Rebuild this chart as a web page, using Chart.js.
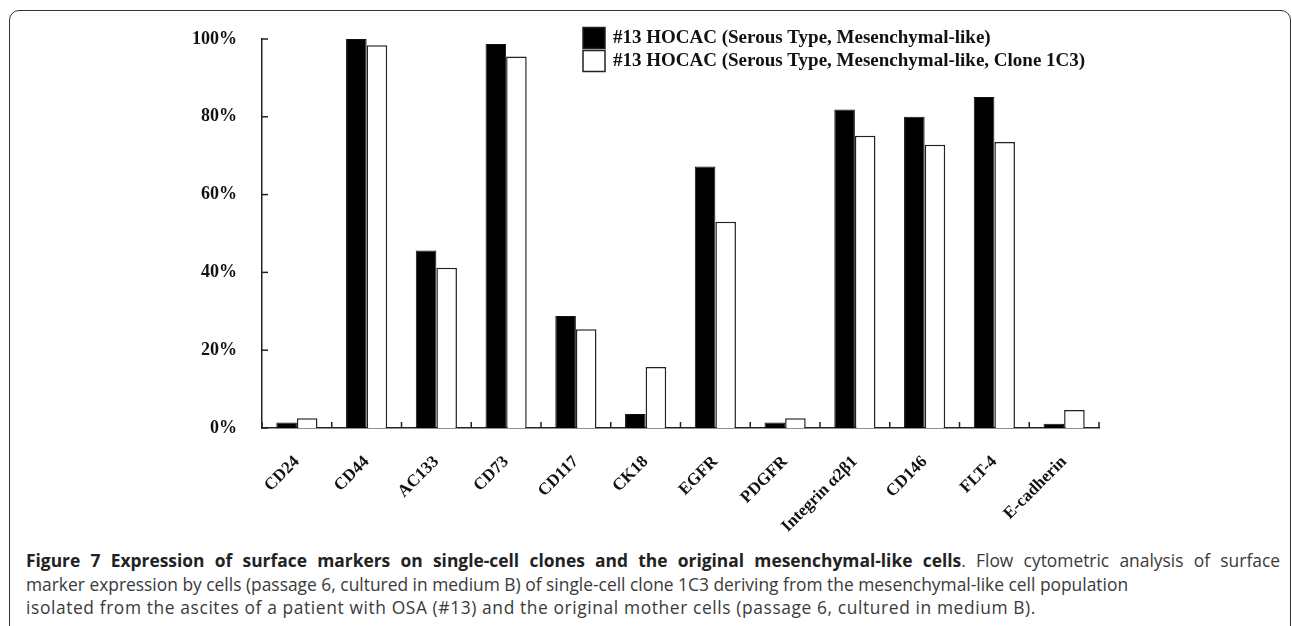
<!DOCTYPE html>
<html lang="en">
<head>
  <meta charset="UTF-8" />
  <title>Figure 7</title>
  <script src="https://cdn.jsdelivr.net/npm/chart.js"></script>
  <style>
    html, body {
      margin: 0;
      padding: 0;
      background: #fff;
    }
    body {
      width: 1292px;
      height: 626px;
      position: relative;
      overflow: hidden;
    }
    #frame {
      position: absolute;
      left: 9px;
      top: 10px;
      width: 1280px;
      height: 700px;
      border: 1.5px solid #333;
      border-radius: 10px;
    }
    #chartBox {
      position: absolute;
      left: 0;
      top: 0;
    }
    #caption {
      position: absolute;
      left: 26px;
      top: 549px;
      width: 1254px;
      font-family: "Open Sans", sans-serif;
      font-size: 17.4px;
      line-height: 23.5px;
      color: #3a3a3a;
    }
    #caption div {
      white-space: nowrap;
    }
    #caption .first {
      text-align: justify;
      text-align-last: justify;
    }
    #caption .last {
      letter-spacing: 0.6px;
    }
    #caption b {
      color: #222;
    }
  </style>
</head>
<body>
  <div id="frame"></div>
  <div id="chartBox">
    <canvas id="barChart" width="1292" height="540"></canvas>
  </div>
  <div id="caption">
    <div class="first"><b>Figure 7 Expression of surface markers on single-cell clones and the original mesenchymal-like cells</b>. Flow cytometric analysis of surface</div>
    <div>marker expression by cells (passage 6, cultured in medium B) of single-cell clone 1C3 deriving from the mesenchymal-like cell population</div>
    <div class="last">isolated from the ascites of a patient with OSA (#13) and the original mother cells (passage 6, cultured in medium B).</div>
  </div>

  <script>
    const categories = ['CD24', 'CD44', 'AC133', 'CD73', 'CD117', 'CK18', 'EGFR', 'PDGFR', 'Integrin α2β1', 'CD146', 'FLT-4', 'E-cadherin'];
    const motherValues = [1.4, 100, 45.6, 98.7, 28.8, 3.6, 67.2, 1.4, 81.9, 80.0, 85.1, 1.1];
    const cloneValues = [2.5, 98.4, 41.2, 95.5, 25.4, 15.7, 53.0, 2.5, 75.1, 72.8, 73.5, 4.6];
    const yTicks = [0, 20, 40, 60, 80, 100];
    const seriesNames = [
      '#13 HOCAC (Serous Type, Mesenchymal-like)',
      '#13 HOCAC (Serous Type, Mesenchymal-like, Clone 1C3)'
    ];

    const serif = '"Liberation Serif", "Times New Roman", serif';

    // tick marks pointing into the plot + legend drawn inside the chart
    const extras = {
      id: 'extras',
      afterDraw(chart) {
        const ctx = chart.ctx;
        const x = chart.scales.x;
        const y = chart.scales.y;
        const area = chart.chartArea;
        ctx.save();
        ctx.strokeStyle = '#222';
        ctx.lineWidth = 1.5;
        y.ticks.forEach(t => {
          const py = y.getPixelForValue(t.value);
          ctx.beginPath();
          ctx.moveTo(area.left, py);
          ctx.lineTo(area.left + 6, py);
          ctx.stroke();
        });
        const half = (x.getPixelForValue(1) - x.getPixelForValue(0)) / 2;
        for (let i = 0; i <= categories.length; i++) {
          const px = x.getPixelForValue(i) - half;
          ctx.beginPath();
          ctx.moveTo(px, area.bottom);
          ctx.lineTo(px, area.bottom - 6);
          ctx.stroke();
        }

        // legend
        const lx = 583, rows = [38, 61];
        ctx.font = 'bold 19px ' + serif;
        ctx.textBaseline = 'middle';
        chart.data.datasets.forEach((ds, i) => {
          const cy = rows[i];
          ctx.fillStyle = ds.backgroundColor;
          ctx.fillRect(lx, cy - 10.5, 22, 21);
          ctx.strokeStyle = '#222';
          ctx.lineWidth = 1.5;
          ctx.strokeRect(lx, cy - 10.5, 22, 21);
          ctx.fillStyle = '#111';
          ctx.fillText(ds.label, lx + 30, cy);
        });
        ctx.restore();
      }
    };

    const chart = new Chart(document.getElementById('barChart'), {
      type: 'bar',
      data: {
        labels: categories,
        datasets: [
          {
            label: seriesNames[0],
            data: motherValues,
            backgroundColor: '#000',
            borderColor: '#111',
            borderWidth: 1
          },
          {
            label: seriesNames[1],
            data: cloneValues,
            backgroundColor: '#fff',
            borderColor: '#222',
            borderWidth: 1.5
          }
        ]
      },
      options: {
        responsive: false,
        animation: false,
        layout: {
          padding: { left: 150, right: 193, top: 39, bottom: 0 }
        },
        datasets: {
          bar: {
            categoryPercentage: 0.59,
            barPercentage: 1.0
          }
        },
        plugins: {
          legend: { display: false },
          tooltip: { enabled: false }
        },
        scales: {
          x: {
            grid: { display: false, offset: true },
            border: { display: true, color: '#222', width: 1.5 },
            ticks: {
              color: '#111',
              font: { family: serif, size: 17, weight: 'bold' },
              maxRotation: 45,
              minRotation: 45,
              padding: 16,
              autoSkip: false
            },
            afterFit(scale) { scale.height = 112; }
          },
          y: {
            min: 0,
            max: 100,
            afterBuildTicks(scale) {
              scale.ticks = yTicks.map(v => ({ value: v }));
            },
            grid: { display: false },
            border: { display: true, color: '#222', width: 1.5 },
            ticks: {
              color: '#111',
              font: { family: serif, size: 18, weight: 'bold' },
              padding: 17,
              callback: v => v + '%'
            },
            afterFit(scale) { scale.width = 112; }
          }
        }
      },
      plugins: [extras]
    });
  </script>
</body>
</html>
